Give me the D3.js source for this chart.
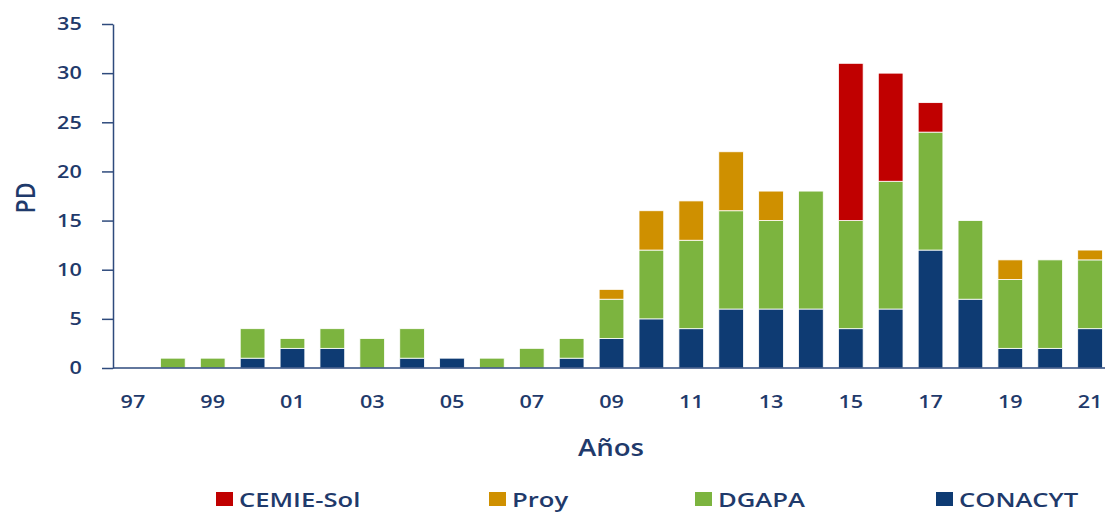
<!DOCTYPE html>
<html>
<head>
<meta charset="utf-8">
<script src="https://cdn.jsdelivr.net/npm/d3@7"></script>
<style>
  html, body { margin: 0; padding: 0; background: #ffffff; }
  svg { display: block; }
</style>
</head>
<body>
<svg id="chart" width="1105" height="512"></svg>
<script>
// ---- data ----
const years = ["97","98","99","00","01","02","03","04","05","06","07","08","09","10","11","12","13","14","15","16","17","18","19","20","21"];
const tickYears = ["97","99","01","03","05","07","09","11","13","15","17","19","21"];
const seriesNames = ["CONACYT","DGAPA","Proy","CEMIE-Sol"];
const CONACYT  = [0,0,0,1,2,2,0,1,1,0,0,1,3,5,4,6,6,6,4,6,12,7,2,2,4];
const DGAPA    = [0,1,1,3,1,2,3,3,0,1,2,2,4,7,9,10,9,12,11,13,12,8,7,9,7];
const Proy     = [0,0,0,0,0,0,0,0,0,0,0,0,1,4,4,6,3,0,0,0,0,0,2,0,1];
const CEMIE    = [0,0,0,0,0,0,0,0,0,0,0,0,0,0,0,0,0,0,16,11,3,0,0,0,0];
const yTicks = [0,5,10,15,20,25,30,35];
const legendOrder = ["CEMIE-Sol","Proy","DGAPA","CONACYT"];

const colors = {"CONACYT":"#0E3B73","DGAPA":"#7CB43F","Proy":"#CF9000","CEMIE-Sol":"#C00000"};
const textColor = "#1F3A6B";
const axisColor = "#2E4A7C";
const FONT = "'Open Sans', sans-serif";
const SX = 1.2; // horizontal stretch of the reference text

const rows = years.map((y,i)=>({year:y,"CONACYT":CONACYT[i],"DGAPA":DGAPA[i],"Proy":Proy[i],"CEMIE-Sol":CEMIE[i]}));

const svg = d3.select("#chart");
const x = d3.scaleBand().domain(years).range([113,1110]).paddingInner(0.38).paddingOuter(0.19);
const y = d3.scaleLinear().domain([0,35]).range([368,24]);

const stack = d3.stack().keys(seriesNames)(rows);

svg.append("g").selectAll("g").data(stack).join("g")
  .attr("fill", d=>colors[d.key])
  .selectAll("rect").data(d=>d.filter(p=>p[1]-p[0]>0)).join("rect")
  .attr("x", d=>x(d.data.year))
  .attr("width", x.bandwidth())
  .attr("y", d=>y(d[1]))
  .attr("height", d=>y(d[0])-y(d[1]))
  .attr("stroke","#ffffff").attr("stroke-width",0.8);

// y axis
const yAxis = svg.append("g").attr("transform","translate(113,0)")
  .call(d3.axisLeft(y).tickValues(yTicks).tickSize(11).tickPadding(15).tickSizeOuter(0));
yAxis.select(".domain").attr("stroke",axisColor).attr("stroke-width",1.5);
yAxis.selectAll(".tick line").attr("stroke",axisColor).attr("stroke-width",1.5);
yAxis.selectAll("text").attr("fill",textColor).attr("transform",`scale(${SX},1)`)
  .style("font-family",FONT).style("font-weight",600).style("font-size","18px");

// x axis
const xAxis = svg.append("g").attr("transform","translate(0,368)")
  .call(d3.axisBottom(x).tickValues(tickYears).tickSize(0).tickPadding(27).tickSizeOuter(0));
xAxis.select(".domain").attr("stroke",axisColor).attr("stroke-width",1.5).attr("d","M113,0H1105");
xAxis.selectAll("text").attr("fill",textColor).attr("transform",`scale(${SX},1)`)
  .style("font-family",FONT).style("font-weight",600).style("font-size","18px");

// axis titles
svg.append("text").attr("transform",`translate(611,456) scale(${SX},1)`).attr("text-anchor","middle")
  .attr("fill",textColor).style("font-family",FONT).style("font-weight",600).style("font-size","23px").text("Años");
svg.append("text").attr("transform",`translate(35,198) rotate(-90) scale(1,${SX})`).attr("text-anchor","middle")
  .attr("fill",textColor).style("font-family",FONT).style("font-weight",600).style("font-size","23px").text("PD");

// legend
const legendX = [216,489,695,936];
const lg = svg.append("g").selectAll("g").data(legendOrder).join("g")
  .attr("transform",(d,i)=>`translate(${legendX[i]},492)`);
lg.append("rect").attr("width",17).attr("height",14).attr("fill",d=>colors[d]);
lg.append("text").attr("transform","translate(23,14.5) scale(1.25,1)").attr("fill",textColor)
  .style("font-family",FONT).style("font-weight",600).style("font-size","20.5px").text(d=>d);
</script>
</body>
</html>
